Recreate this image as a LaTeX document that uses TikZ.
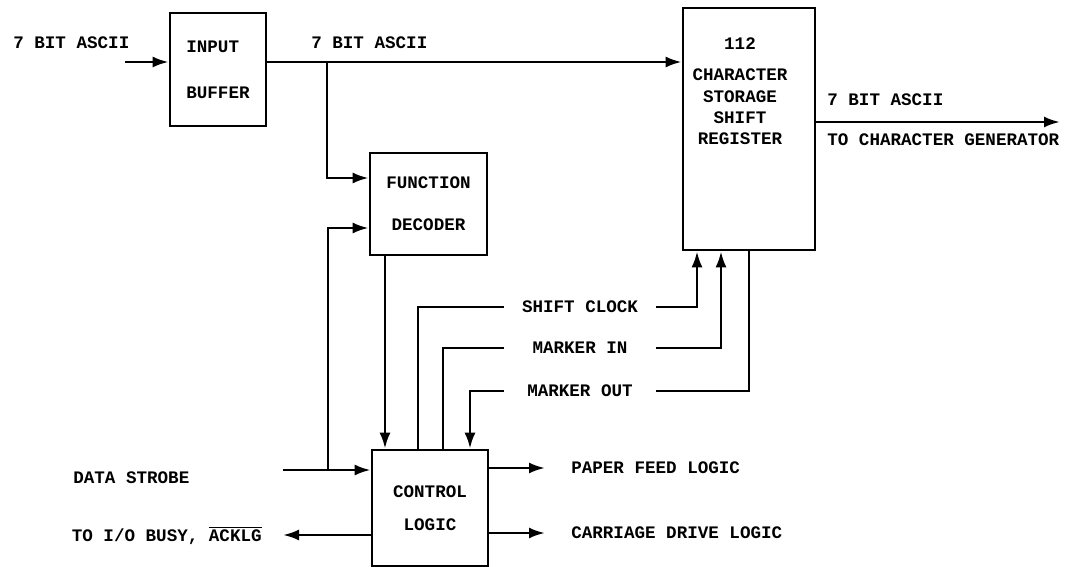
\documentclass[tikz,border=0pt]{standalone}
\usepackage{fontspec}
\setmainfont{Liberation Mono}
\usepackage{tikz}
\usetikzlibrary{arrows.meta}

\tikzset{
  blk/.style={draw, align=center, inner sep=0pt},
  sig/.style={minimum width=3cm, inner sep=0pt},
  lbl/.style={anchor=west, inner sep=0pt},
  outlbl/.style={anchor=west, inner xsep=0.5cm, inner ysep=0pt},
}

\begin{document}
\begin{tikzpicture}[line width=1.5pt, >={Latex[length=3.2mm,width=2.2mm]}, font=\bfseries]
    \useasboundingbox (0,0) rectangle (21.38,11.34);

    % Input buffer
    \node[blk, align=left, minimum width=1.92cm, minimum height=2.26cm] (buf) at (4.36,9.95) {INPUT\\[14pt]BUFFER};
    \node[lbl] (inasc) at (0.24,10.48) {7 BIT ASCII};
    \coordinate (inL) at (2.5,10.1);
    \draw[->] (inL) -- (inL -| buf.west);

    % Shift register
    \node[blk, minimum width=2.64cm, minimum height=4.84cm] (sreg) at (14.98,8.76) {};
    \node[align=center, inner sep=0pt] (sregtxt) at (14.8,9.52) {112\\[6pt]CHARACTER\\STORAGE\\SHIFT\\REGISTER};

    % Bus to shift register
    \coordinate (j1) at (6.54,10.1);
    \node[lbl] (busasc) at (6.2,10.48) {7 BIT ASCII};
    \draw[->] (buf.east |- j1) -- (sreg.west |- j1);

    % Function decoder
    \node[blk, minimum width=2.34cm, minimum height=2.04cm] (fdec) at (8.57,7.26) {FUNCTION\\[12pt]DECODER};
    \draw[->] (j1) |- (fdec.west |- 0,7.78);

    % Control logic
    \node[blk, minimum width=2.32cm, minimum height=2.32cm] (ctrl) at (8.6,1.18) {CONTROL\\[7pt]LOGIC};
    \draw[->] (fdec.south -| 7.7,0) -- (ctrl.north -| 7.7,0);

    % Data strobe
    \node[lbl] (dstrobe) at (1.44,1.78) {DATA STROBE};
    \coordinate (dsL) at (5.66,1.94);
    \coordinate (j2) at (6.56,1.94);
    \draw[->] (dsL) -- (dsL -| ctrl.west);
    \draw[->] (j2) |- (fdec.west |- 0,6.78);

    % Busy / acknowledge
    \node[anchor=east, inner xsep=0.4cm, inner ysep=0pt] (busy) at (5.66,0.64) {TO I/O BUSY, $\overline{\mbox{ACKLG}}$};
    \draw[->] (ctrl.west |- busy.east) -- (busy.east);

    % Register control signals
    \node[sig] (sclk) at (11.6,5.2) {SHIFT CLOCK};
    \node[sig] (mkin) at (11.6,4.38) {MARKER IN};
    \node[sig] (mkout) at (11.6,3.52) {MARKER OUT};
    \draw (ctrl.north -| 8.36,0) |- (sclk.west);
    \draw[->] (sclk.east) -| (sreg.south -| 13.94,0);
    \draw (ctrl.north -| 8.86,0) |- (mkin.west);
    \draw[->] (mkin.east) -| (sreg.south -| 14.42,0);
    \draw[->] (mkout.west) -| (ctrl.north -| 9.4,0);
    \draw (sreg.south) |- (mkout.east);

    % Outputs of control logic
    \node[outlbl] (pfeed) at (10.9,1.98) {PAPER FEED LOGIC};
    \node[outlbl] (cdrive) at (10.9,0.68) {CARRIAGE DRIVE LOGIC};
    \draw[->] (ctrl.east |- pfeed.west) -- (pfeed.west);
    \draw[->] (ctrl.east |- cdrive.west) -- (cdrive.west);

    % Output to character generator
    \coordinate (outR) at (21.2,8.9);
    \draw[->] (sreg.east |- outR) -- (outR);
    \node[lbl] (outasc) at (16.52,9.34) {7 BIT ASCII};
    \node[lbl] (chgen) at (16.52,8.54) {TO CHARACTER GENERATOR};
  \end{tikzpicture}
\end{document}
